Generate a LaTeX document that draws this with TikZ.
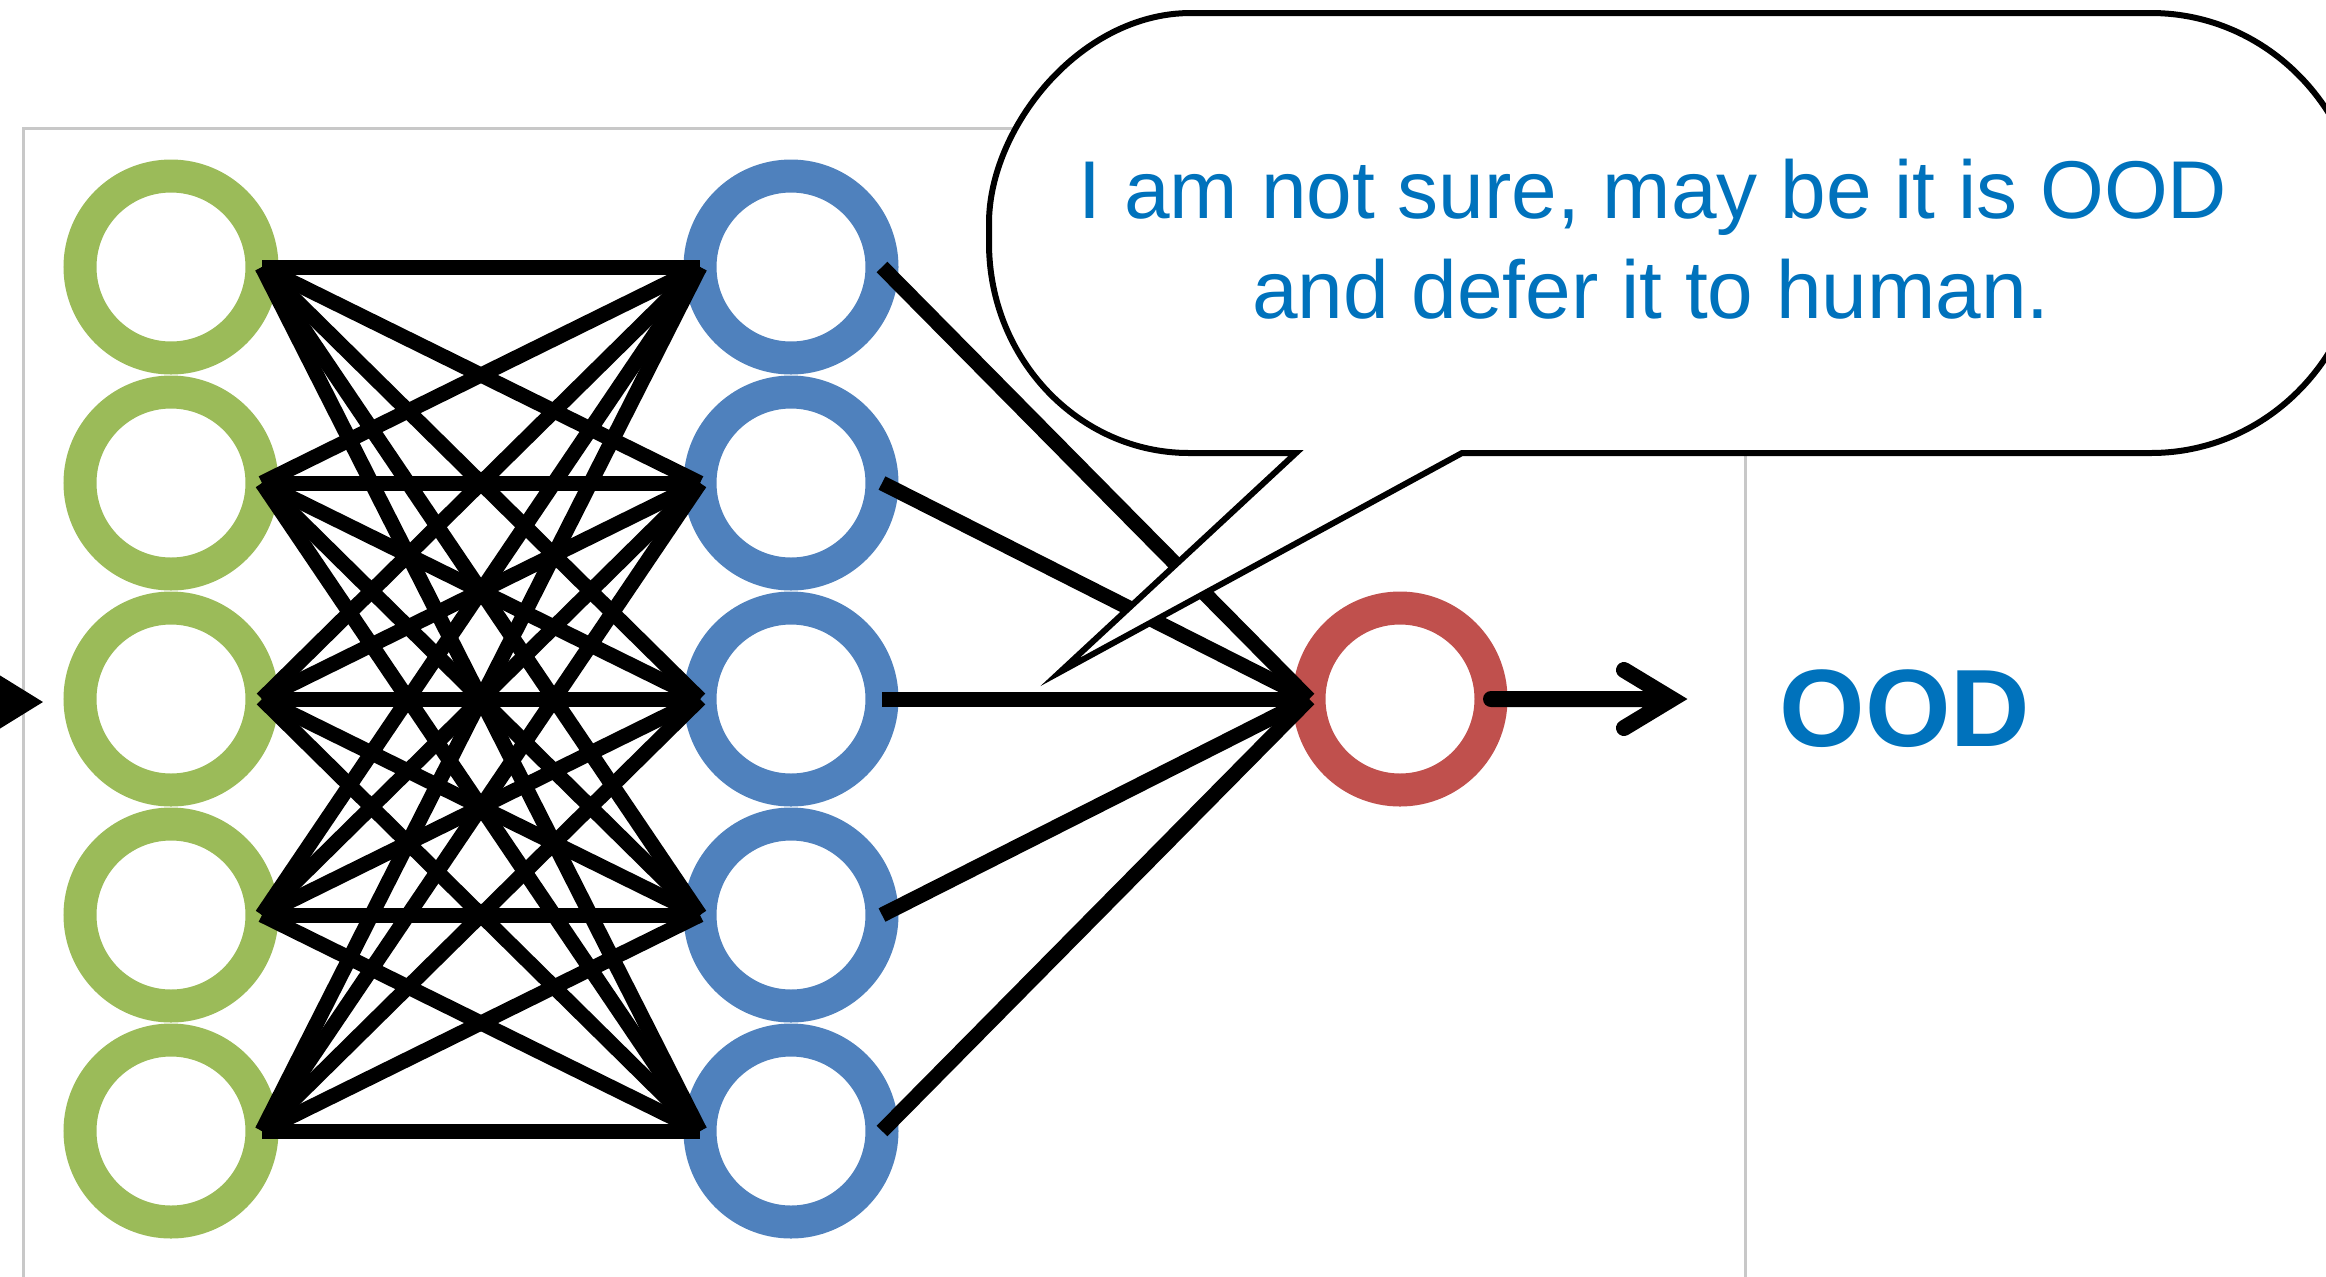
\documentclass[tikz,border=0pt]{standalone}
\usepackage{fontspec}
\setmainfont{Liberation Sans}
\usetikzlibrary{arrows.meta,calc}

\definecolor{ringgreen}{HTML}{9BBB59}
\definecolor{ringblue}{HTML}{4F81BD}
\definecolor{ringred}{HTML}{C0504D}
\definecolor{textblue}{HTML}{0072BC}
\definecolor{framegray}{HTML}{C8C8C8}

\begin{document}
\begin{tikzpicture}[x=0.5pt,y=-0.5pt,
  neuron/.style={circle, draw=#1, line width=16.5pt, minimum size=91pt,
                 inner sep=0pt, outer sep=0pt, fill=white},
  link/.style={black, line width=7.5pt},
  panel/.style={framegray, line width=1.5pt},
  bubble/.style={draw=black, fill=white, line width=3pt, line join=miter},
  bubbletext/.style={anchor=base, text=textblue, inner sep=0pt,
                     font=\fontsize{41pt}{49pt}\selectfont},
  verdict/.style={anchor=base, text=textblue, inner sep=0pt,
                  font=\fontsize{55pt}{66pt}\selectfont\bfseries}]

\useasboundingbox (0,0) rectangle (2326,1276);

% light panel behind the network
\draw[panel] (23,128) rectangle (1745,1400);

% input and hidden layers
\foreach \i/\y in {1/267,2/483,3/699,4/915,5/1131} {
  \node[neuron=ringgreen] (g\i) at (171,\y) {};
  \node[neuron=ringblue]  (h\i) at (791,\y) {};
}
% output unit
\node[neuron=ringred] (o) at (1400,699) {};

% fully connected weights
\foreach \i in {1,...,5} {
  \foreach \j in {1,...,5} {
    \draw[link] (g\i.east) -- (h\j.west);
  }
}
\foreach \i in {1,...,5} {
  \draw[link] (h\i.east) -- (o.west);
}

% output arrow with open head
\coordinate (outtip) at (1672,699);
\draw[black, line width=8pt, line cap=round, line join=miter]
  (o.east) -- (outtip) ++(-48,-29) -- (outtip) -- ++(-48,29);

% incoming arrow
\coordinate (insrc) at (-200,702);
\coordinate (intip) at (43,702);
\draw[black, line width=2pt, -{Triangle[length=36pt,width=44pt]}] (insrc) -- (intip);

% speech bubble
\draw[bubble] (1296,453) -- (1060,672) -- (1462,453)
  -- (2151,453) .. controls (2268,453) and (2363,354.5) .. (2363,233)
  .. controls (2363,111.5) and (2268,13) .. (2151,13)
  -- (1191,13) .. controls (1079,13) and (989,129) .. (989,223)
  -- (989,243) .. controls (989,359) and (1079,453) .. (1189,453) -- cycle;

\node[bubbletext] (say1) at (1653,218) {I am not sure, may be it is OOD};
\node[bubbletext] (say2) at (1651,318) {and defer it to human.};

\node[verdict] (ood) at (1905,746) {OOD};

\end{tikzpicture}
\end{document}
